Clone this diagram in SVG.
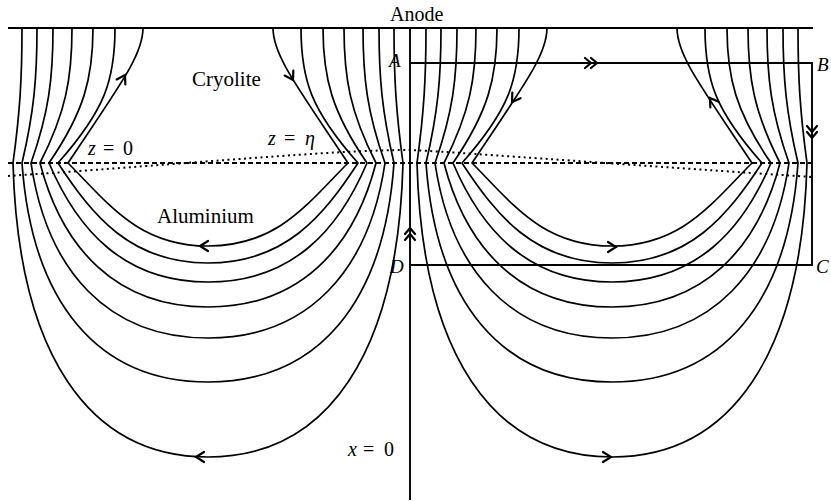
<svg xmlns="http://www.w3.org/2000/svg" xmlns:xlink="http://www.w3.org/1999/xlink" width="831" height="501" viewBox="0 0 831 501">
<style>
.fl{fill:none;stroke:#000;stroke-width:1.7;stroke-linejoin:miter}
.ax{fill:none;stroke:#000;stroke-width:1.9}
.dash{fill:none;stroke:#000;stroke-width:1.8;stroke-dasharray:5 3}
.dot{fill:none;stroke:#000;stroke-width:2;stroke-dasharray:2 3.5}
.ah{fill:none;stroke:#000;stroke-width:2.2;stroke-linecap:round;stroke-linejoin:miter}
text{font-family:"Liberation Serif","Times New Roman",serif;fill:#000}
.lbl{font-size:21px}
.pt{font-size:19px;font-style:italic}
.eq{font-size:20px}
.it{font-style:italic}
</style>
<defs>
<path id="ah" class="ah" d="M-8,-5 L0,0 L-8,5"/>
<path id="dah" class="ah" d="M-12,-5 L-6,0 L-12,5 M-6,-5 L0,0 L-6,5"/>
</defs>
<rect width="831" height="501" fill="#fff"/>

<g id="interface">
<path class="dash" d="M8,163 H812"/>
<path class="dot" d="M8,176 C200,163 330,150 410,150 C440,151 600,163 812,177"/>
</g>

<g id="cell-left">
<path class="fl" d="M143,28 C143,55 120,85 68,163 C108,203 138,246 208,246 C278,246 308,203 348,163 C296,85 273,55 273,28"/>
<path class="fl" d="M115,28 C115,80 105,110 58,163 C92,215 130,263 208,263 C286,263 324,215 358,163 C311,110 301,80 301,28"/>
<path class="fl" d="M93,28 C93,78 84,112 49,163 C77,229 123,282 208,282 C293,282 339,229 367,163 C332,112 323,78 323,28"/>
<path class="fl" d="M72,28 C72,78 66,112 40,163 C62,248 116,307 208,307 C300,307 354,248 376,163 C350,112 344,78 344,28"/>
<path class="fl" d="M53,28 C53,78 49,112 31,163 C47,271 108,338 208,338 C308,338 369,271 385,163 C367,112 363,78 363,28"/>
<path class="fl" d="M37,28 C37,78 34,112 22,163 C32,303 98,382 208,382 C318,382 384,303 394,163 C382,112 379,78 379,28"/>
<path class="fl" d="M22,28 C22,78 20,112 13,163 C18,353 88,457 208,457 C328,457 398,353 403,163 C396,112 394,78 394,28"/>
</g>

<g id="cell-right">
<path class="fl" d="M547,28 C547,55 524,85 472,163 C512,203 542,246 612,246 C682,246 712,203 752,163 C700,85 677,55 677,28"/>
<path class="fl" d="M519,28 C519,80 509,110 462,163 C496,215 534,263 612,263 C690,263 728,215 762,163 C715,110 705,80 705,28"/>
<path class="fl" d="M497,28 C497,78 488,112 453,163 C481,229 527,282 612,282 C697,282 743,229 771,163 C736,112 727,78 727,28"/>
<path class="fl" d="M476,28 C476,78 470,112 444,163 C466,248 520,307 612,307 C704,307 758,248 780,163 C754,112 748,78 748,28"/>
<path class="fl" d="M457,28 C457,78 453,112 435,163 C451,271 512,338 612,338 C712,338 773,271 789,163 C771,112 767,78 767,28"/>
<path class="fl" d="M441,28 C441,78 438,112 426,163 C436,303 502,382 612,382 C722,382 788,303 798,163 C786,112 783,78 783,28"/>
<path class="fl" d="M426,28 C426,78 424,112 417,163 C422,353 492,457 612,457 C732,457 802,353 807,163 C800,112 798,78 798,28"/>
</g>

<g id="frame">
<path class="ax" d="M8,28 H813"/>
<path class="ax" d="M410,28 V500"/>
<path class="ax" d="M410,63 H812 V265 H410"/>
</g>

<g id="connectors">
<use xlink:href="#ah" transform="translate(125,75) rotate(-60)"/>
<use xlink:href="#ah" transform="translate(293,80) rotate(60)"/>
<use xlink:href="#ah" transform="translate(200,246) rotate(180)"/>
<use xlink:href="#ah" transform="translate(196,457) rotate(180)"/>
<use xlink:href="#ah" transform="translate(512,102) rotate(124)"/>
<use xlink:href="#ah" transform="translate(710,98) rotate(-124)"/>
<use xlink:href="#ah" transform="translate(616,247)"/>
<use xlink:href="#ah" transform="translate(611,457)"/>
<use xlink:href="#dah" transform="translate(597,63)"/>
<use xlink:href="#dah" transform="translate(812,138) rotate(90)"/>
<use xlink:href="#dah" transform="translate(410,228) rotate(-90)"/>
</g>

<g id="labels">
<text class="eq" x="390" y="21">Anode</text>
<text class="lbl" x="192" y="86">Cryolite</text>
<text class="lbl" x="157" y="223">Aluminium</text>
<text class="eq" y="155"><tspan class="it" x="88">z</tspan><tspan x="103">=</tspan><tspan x="123">0</tspan></text>
<text class="eq" y="145"><tspan class="it" x="268">z</tspan><tspan x="284">=</tspan><tspan class="it" x="305">η</tspan></text>
<text class="eq" y="456"><tspan class="it" x="348">x</tspan><tspan x="363">=</tspan><tspan x="384">0</tspan></text>
<text class="pt" x="389" y="67">A</text>
<text class="pt" x="817" y="71">B</text>
<text class="pt" x="816" y="273">C</text>
<text class="pt" x="390" y="273">D</text>
</g>
</svg>
